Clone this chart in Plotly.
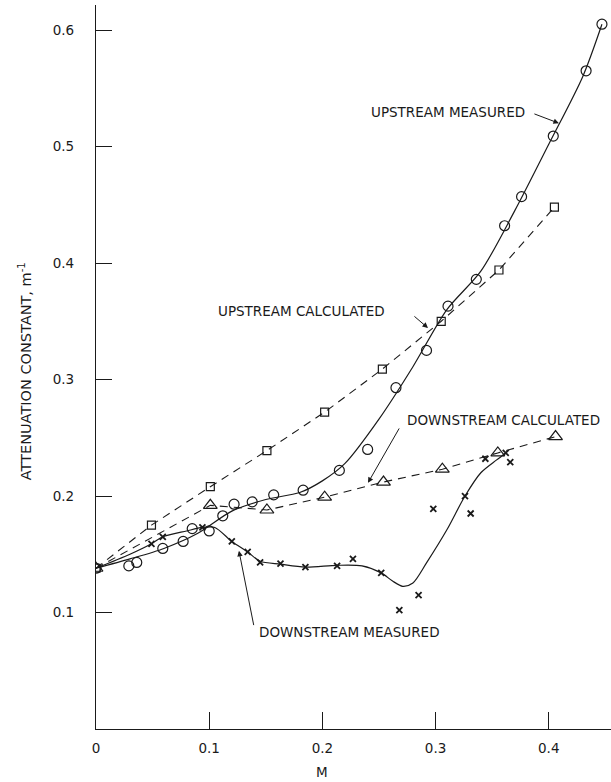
import plotly.graph_objects as go

# ---- data ----
# Upstream measured (circles) and its faired curve
um_x = [0, 0.029, 0.036, 0.059, 0.077, 0.085, 0.100, 0.112, 0.122, 0.138, 0.157, 0.183,
        0.215, 0.240, 0.265, 0.292, 0.311, 0.336, 0.361, 0.376, 0.404, 0.433, 0.447]
um_y = [0.138, 0.140, 0.143, 0.155, 0.161, 0.172, 0.170, 0.183, 0.193, 0.195, 0.201, 0.205,
        0.222, 0.240, 0.293, 0.325, 0.363, 0.386, 0.432, 0.457, 0.509, 0.565, 0.605]
umc_x = [0, 0.03, 0.06, 0.09, 0.12, 0.15, 0.18, 0.20, 0.22, 0.25, 0.28, 0.31, 0.34, 0.37,
         0.40, 0.43, 0.447]
umc_y = [0.138, 0.146, 0.155, 0.168, 0.187, 0.197, 0.203, 0.213, 0.228, 0.266, 0.311, 0.360,
         0.393, 0.445, 0.502, 0.560, 0.605]

# Upstream calculated (squares)
uc_x = [0, 0.049, 0.101, 0.151, 0.202, 0.253, 0.305, 0.356, 0.405]
uc_y = [0.138, 0.175, 0.208, 0.239, 0.272, 0.309, 0.350, 0.394, 0.448]

# Downstream calculated (triangles)
dc_x = [0, 0.101, 0.151, 0.202, 0.254, 0.306, 0.355, 0.406]
dc_y = [0.138, 0.192, 0.188, 0.199, 0.212, 0.223, 0.237, 0.251]

# Downstream measured (crosses) and its faired curve
dm_x = [0.049, 0.059, 0.094, 0.120, 0.134, 0.145, 0.163, 0.185, 0.213, 0.227, 0.252, 0.268,
        0.285, 0.298, 0.326, 0.331, 0.344, 0.362, 0.366]
dm_y = [0.159, 0.165, 0.173, 0.161, 0.152, 0.143, 0.142, 0.139, 0.140, 0.146, 0.134, 0.102,
        0.115, 0.189, 0.200, 0.185, 0.232, 0.237, 0.229]
dmc_x = [0, 0.03, 0.049, 0.059, 0.08, 0.094, 0.105, 0.12, 0.134, 0.145, 0.163, 0.185, 0.213,
         0.235, 0.252, 0.262, 0.271, 0.280, 0.292, 0.31, 0.326, 0.34, 0.354, 0.362]
dmc_y = [0.138, 0.150, 0.159, 0.165, 0.170, 0.173, 0.173, 0.161, 0.152, 0.144, 0.1415, 0.139,
         0.1405, 0.140, 0.134, 0.127, 0.1225, 0.1254, 0.1426, 0.171, 0.200, 0.220, 0.231, 0.237]

x_ticks = [0, 0.1, 0.2, 0.3, 0.4]
x_tick_text = ["0", "0.1", "0.2", "0.3", "0.4"]
y_ticks = [0.1, 0.2, 0.3, 0.4, 0.5, 0.6]
y_tick_text = ["0.1", "0.2", "0.3", "0.4", "0.5", "0.6"]

FONT = "DejaVu Sans"
INK = "#1a1a1a"
FS = 13.5

fig = go.Figure()

# curves
fig.add_trace(go.Scatter(x=umc_x, y=umc_y, mode="lines",
                         line=dict(color=INK, width=1.2, shape="spline", smoothing=0.8),
                         hoverinfo="skip"))
fig.add_trace(go.Scatter(x=dmc_x, y=dmc_y, mode="lines",
                         line=dict(color=INK, width=1.2, shape="spline", smoothing=0.8),
                         hoverinfo="skip"))
fig.add_trace(go.Scatter(x=uc_x, y=uc_y, mode="lines",
                         line=dict(color=INK, width=1.1, dash="8px,6px"),
                         hoverinfo="skip"))
fig.add_trace(go.Scatter(x=dc_x, y=dc_y, mode="lines",
                         line=dict(color=INK, width=1.1, dash="8px,6px"),
                         hoverinfo="skip"))

# markers
fig.add_trace(go.Scatter(x=um_x, y=um_y, mode="markers",
                         marker=dict(symbol="circle-open", size=10, color=INK,
                                     line=dict(width=1.2, color=INK))))
fig.add_trace(go.Scatter(x=uc_x, y=uc_y, mode="markers",
                         marker=dict(symbol="square-open", size=8, color=INK,
                                     line=dict(width=1.2, color=INK))))
fig.add_trace(go.Scatter(x=dc_x, y=dc_y, mode="markers",
                         marker=dict(symbol="triangle-up-open", size=12, color=INK,
                                     line=dict(width=1.2, color=INK))))
fig.add_trace(go.Scatter(x=dm_x, y=dm_y, mode="markers",
                         marker=dict(symbol="x-thin", size=6, color=INK,
                                     line=dict(width=1.8, color=INK))))

annots = []
labels = [
    ("UPSTREAM MEASURED", 0.3807, 0.5294, "right"),
    ("UPSTREAM CALCULATED", 0.2571, 0.3588, "right"),
    ("DOWNSTREAM CALCULATED", 0.2730, 0.2653, "left"),
    ("DOWNSTREAM MEASURED", 0.1422, 0.0836, "left"),
]
for txt, lx, ly, anc in labels:
    annots.append(dict(x=lx, y=ly, xref="x", yref="y", text=txt, showarrow=False,
                       xanchor=anc, yanchor="middle",
                       font=dict(family=FONT, size=FS, color=INK)))

arrows = [
    (0.386, 0.5285, 0.4090, 0.5200),
    (0.280, 0.3553, 0.2933, 0.3442),
    (0.2686, 0.2593, 0.2403, 0.2113),
    (0.1396, 0.0879, 0.1263, 0.1530),
]
for tx, ty, hx, hy in arrows:
    annots.append(dict(x=hx, y=hy, ax=tx, ay=ty, xref="x", yref="y", axref="x", ayref="y",
                       text="", showarrow=True, arrowhead=2, arrowsize=1.1, arrowwidth=1,
                       arrowcolor=INK, standoff=0, startstandoff=0))

annots.append(dict(x=0.2, y=0, xref="x", yref="paper", yshift=-43, text="M",
                   showarrow=False, xanchor="center", yanchor="middle",
                   font=dict(family=FONT, size=FS, color=INK)))
annots.append(dict(x=-0.138, y=0.494, xref="paper", yref="paper",
                   text="ATTENUATION CONSTANT, m<sup>-1</sup>", textangle=-90,
                   showarrow=False, xanchor="center", yanchor="middle",
                   font=dict(family=FONT, size=14.5, color=INK)))

fig.update_layout(
    width=611, height=782,
    margin=dict(l=96, r=0, t=5, b=53),
    paper_bgcolor="white", plot_bgcolor="white",
    showlegend=False,
    font=dict(family=FONT, size=FS, color=INK),
    annotations=annots,
    xaxis=dict(range=[0, 0.455], tickvals=x_ticks, ticktext=x_tick_text,
               ticks="inside", ticklen=17, tickwidth=1, tickcolor=INK,
               showline=True, linecolor=INK, linewidth=1.2, showgrid=False,
               zeroline=False, ticklabelstandoff=7,
               tickfont=dict(family=FONT, size=FS, color=INK)),
    yaxis=dict(range=[0, 0.6215], tickvals=y_ticks, ticktext=y_tick_text,
               ticks="inside", ticklen=16, tickwidth=1, tickcolor=INK,
               showline=True, linecolor=INK, linewidth=1.2, showgrid=False,
               zeroline=False, ticklabelstandoff=18,
               tickfont=dict(family=FONT, size=FS, color=INK)),
)

fig.write_html("out.html", config={"displayModeBar": False},
               post_script="document.body.style.margin='0';")
